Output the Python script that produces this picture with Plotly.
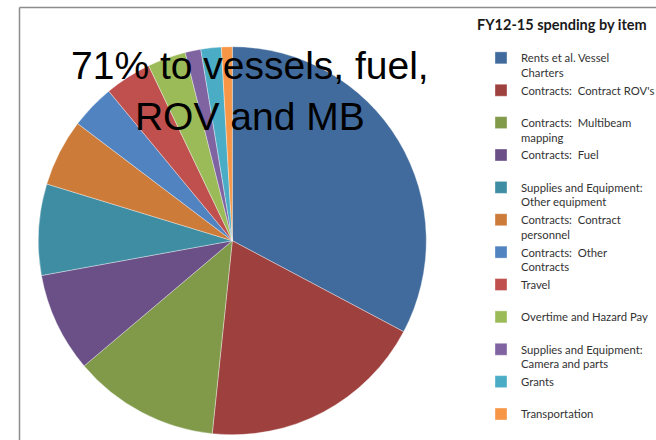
import plotly.graph_objects as go

categories = [
    "Rents et al. Vessel<br>Charters",
    "Contracts:  Contract ROV's<br> ",
    "Contracts:  Multibeam<br>mapping",
    "Contracts:  Fuel<br> ",
    "Supplies and Equipment:<br>Other equipment",
    "Contracts:  Contract<br>personnel",
    "Contracts:  Other<br>Contracts",
    "Travel<br> ",
    "Overtime and Hazard Pay<br> ",
    "Supplies and Equipment:<br>Camera and parts",
    "Grants<br> ",
    "Transportation<br> ",
]
values = [32.8, 18.9, 12.2, 8.3, 7.6, 5.6, 3.7, 3.9, 3.2, 1.3, 1.7, 0.9]
colors = [
    "#416B9C", "#9E413E", "#809A4A", "#6B5087", "#3E8DA3", "#CC7B38",
    "#5083C0", "#C0504D", "#9BBB59", "#8064A2", "#4BACC6", "#F79646",
]
chart_title = "FY12-15 spending by item"
headline = "71% to vessels, fuel,<br>ROV and MB"

W, H = 656, 440
cx, cy, r = 232.3, 240.7, 194

fig = go.Figure(go.Pie(
    labels=categories,
    values=values,
    sort=False,
    direction="clockwise",
    rotation=0,
    textinfo="none",
    hoverinfo="label+percent",
    marker=dict(colors=colors, line=dict(color="rgba(255,255,255,0.6)", width=0.6)),
    domain=dict(x=[(cx - r) / W, (cx + r) / W], y=[(H - cy - r) / H, (H - cy + r) / H]),
))

fig.update_layout(
    width=W, height=H,
    margin=dict(l=0, r=0, t=0, b=0, autoexpand=False),
    paper_bgcolor="white",
    plot_bgcolor="white",
    title=dict(text="<b>" + chart_title + "</b>", x=477 / W, xanchor="left",
               y=1 - 25 / H, yanchor="middle",
               font=dict(family="Lato, Open Sans, sans-serif", size=14.5, color="#1a1a1a")),
    legend=dict(x=(521 - 40) / W, xanchor="left", y=1 - 44 / H, yanchor="top",
                valign="top", tracegroupgap=0,
                font=dict(family="Lato, Open Sans, sans-serif", size=11.3, color="#333333"),
                bgcolor="rgba(0,0,0,0)"),
    showlegend=True,
    annotations=[dict(
        text=headline, x=250 / W, y=1 - 91 / H, xref="paper", yref="paper",
        xanchor="center", yanchor="middle", showarrow=False, align="center",
        font=dict(family="Liberation Sans, Arial", size=39, color="black"),
    )],
    shapes=[
        dict(type="line", xref="paper", yref="paper", x0=19.5 / W, x1=1.01, y0=1 - 7.5 / H, y1=1 - 7.5 / H,
             line=dict(color="#8c8c8c", width=1.5)),
        dict(type="line", xref="paper", yref="paper", x0=19.5 / W, x1=19.5 / W, y0=1 - 7.5 / H, y1=-0.01,
             line=dict(color="#8c8c8c", width=1.5)),
    ],
)

fig.write_html("out.html", config={"displayModeBar": False},
               post_script="document.body.style.margin='0';document.body.style.overflow='hidden';")
